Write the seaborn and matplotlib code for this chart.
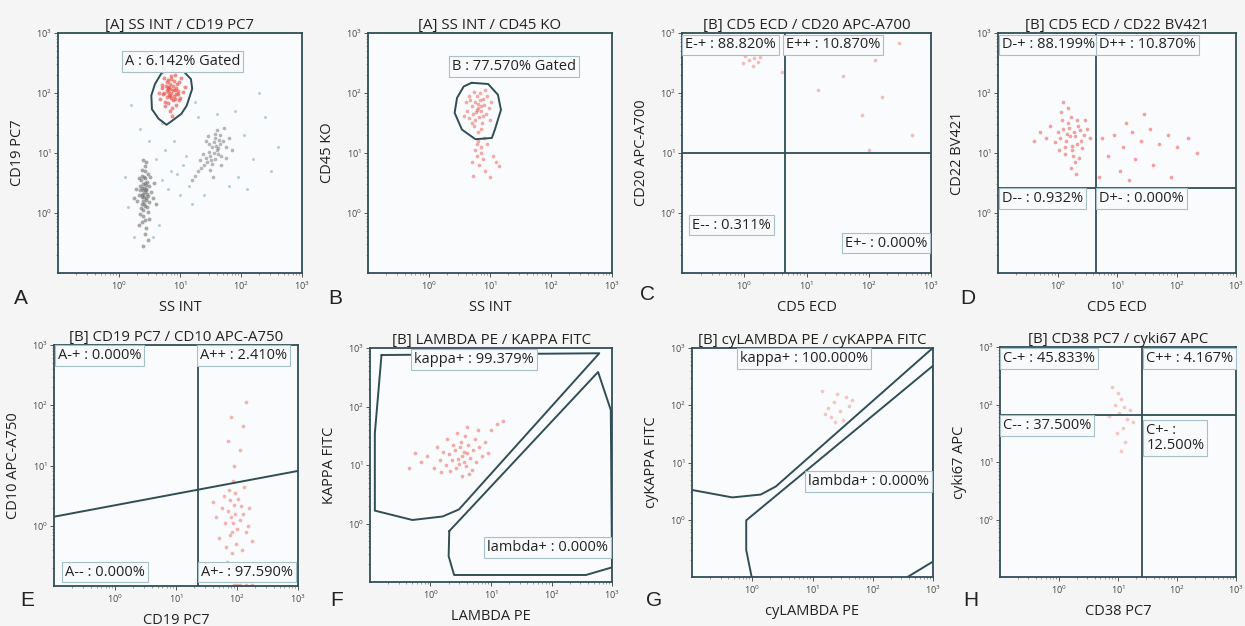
import numpy as np
import matplotlib
matplotlib.use("Agg")
import matplotlib.pyplot as plt
import seaborn as sns
from matplotlib.ticker import FixedLocator, LogLocator, NullFormatter

# ---------------- data (all values in log10 units) ----------------
# panel A: SS INT / CD19 PC7
a_gate = [(0.83, 2.43), (1.05, 2.37), (1.18, 2.23), (1.20, 2.07), (1.11, 1.79), (1.02, 1.65),
          (0.78, 1.47), (0.65, 1.57), (0.54, 1.73), (0.53, 1.96), (0.59, 2.15), (0.69, 2.32)]
a_red = [(0.85, 2.00), (0.82, 2.10), (0.90, 1.95), (0.78, 2.05), (0.95, 2.15), (0.88, 1.88), (0.72, 1.98),
         (0.80, 2.22), (0.92, 2.05), (1.00, 1.92), (0.86, 2.28), (0.76, 1.85), (0.83, 1.95), (0.98, 2.18),
         (0.70, 2.08), (0.89, 2.12), (0.93, 1.80), (0.81, 2.02), (0.74, 2.25), (1.05, 2.02), (0.87, 1.75),
         (0.79, 1.93), (0.91, 2.30), (0.84, 2.15), (0.68, 1.90), (0.96, 1.98), (0.77, 2.12), (1.02, 2.25),
         (0.88, 2.05), (0.83, 1.70), (0.73, 2.00), (0.94, 2.08), (0.86, 1.92), (0.80, 1.83), (0.99, 1.88),
         (0.65, 2.00), (0.90, 2.20), (0.84, 2.06), (0.75, 1.78), (1.08, 2.10), (0.82, 1.97), (0.92, 1.90),
         (0.78, 2.18), (0.87, 1.62), (0.71, 2.14), (0.97, 2.03), (0.85, 2.24), (0.80, 2.08), (0.93, 1.98)]
a_gray_main = [(0.42, 0.35), (0.38, 0.30), (0.45, 0.40), (0.40, 0.20), (0.35, 0.45), (0.48, 0.28), (0.43, 0.50),
               (0.37, 0.15), (0.41, 0.60), (0.46, 0.10), (0.33, 0.30), (0.50, 0.45), (0.39, 0.05), (0.44, 0.25),
               (0.36, 0.55), (0.47, 0.65), (0.40, -0.05), (0.42, 0.70), (0.30, 0.20), (0.52, 0.35), (0.38, -0.15),
               (0.45, -0.25), (0.41, 0.42), (0.34, 0.38), (0.49, 0.18), (0.43, 0.12), (0.37, 0.62), (0.46, 0.52),
               (0.40, 0.32), (0.44, 0.38), (0.39, 0.48), (0.36, 0.08), (0.42, -0.35), (0.47, -0.45), (0.40, -0.55),
               (0.32, 0.58), (0.55, 0.25), (0.28, 0.40), (0.51, 0.60), (0.43, 0.78), (0.38, 0.72), (0.48, 0.02),
               (0.35, -0.02), (0.44, 0.22), (0.41, 0.15), (0.39, 0.38), (0.46, 0.32), (0.37, 0.27), (0.43, 0.58),
               (0.42, -0.12), (0.58, 0.50), (0.25, 0.25), (0.60, 0.15), (0.33, -0.20), (0.50, -0.10), (0.45, 0.85),
               (0.40, 0.88), (0.38, 0.42), (0.44, 0.46), (0.41, 0.26)]
a_gray_second = [(1.55, 1.00), (1.50, 0.95), (1.60, 1.05), (1.45, 0.85), (1.65, 1.15), (1.58, 0.90), (1.52, 1.10),
                 (1.40, 0.80), (1.70, 1.20), (1.48, 1.02), (1.62, 0.98), (1.35, 0.75), (1.57, 1.25), (1.75, 1.10),
                 (1.43, 0.92), (1.66, 1.30), (1.30, 0.70), (1.53, 0.82), (1.61, 1.38), (1.80, 1.25), (1.47, 1.15),
                 (1.25, 0.62), (1.68, 0.95), (1.38, 0.98), (1.56, 1.18), (1.72, 1.42), (1.20, 0.55), (1.85, 1.05),
                 (1.50, 0.72), (1.63, 1.08), (1.42, 1.20), (1.58, 1.32), (1.33, 0.88), (1.76, 0.92), (1.54, 0.60),
                 (1.46, 1.28), (1.67, 0.80), (1.59, 1.12), (1.51, 0.88), (1.64, 1.22)]
a_sparse = [(0.70, 0.55), (0.85, 0.70), (0.95, 0.65), (1.05, 0.80), (0.80, 0.40), (1.10, 0.95), (0.90, 1.20),
            (0.60, 0.90), (1.15, 0.45), (0.75, 1.05), (1.00, 0.30), (2.05, 1.30), (2.20, 0.90), (1.95, 0.60),
            (2.40, 1.60), (1.30, 1.60), (0.20, 1.80), (0.35, 1.40), (1.90, 1.70), (2.10, 0.40), (0.55, -0.40),
            (0.65, -0.20), (0.25, -0.40), (1.20, 0.15), (1.40, 0.30), (2.60, 1.10), (0.10, 0.60), (0.70, 1.50),
            (1.60, 1.65), (2.30, 2.00), (1.25, 1.85), (0.50, 1.20), (0.15, 0.10), (1.80, 0.45), (2.50, 0.70)]

# panel B: SS INT / CD45 KO
b_gate = [(0.70, 2.17), (0.97, 2.15), (1.13, 1.97), (1.18, 1.72), (1.08, 1.39), (1.03, 1.25), (0.76, 1.23),
          (0.54, 1.39), (0.42, 1.67), (0.46, 1.92), (0.57, 2.11)]
b_red = [(0.80, 1.75), (0.75, 1.85), (0.85, 1.70), (0.72, 1.65), (0.88, 1.90), (0.78, 1.95), (0.82, 1.60),
         (0.70, 1.78), (0.90, 1.80), (0.76, 1.55), (0.84, 2.00), (0.68, 1.88), (0.93, 1.65), (0.79, 1.72),
         (0.74, 1.45), (0.87, 1.50), (0.62, 1.70), (0.95, 1.95), (0.81, 1.82), (0.66, 1.58), (0.98, 1.75),
         (0.73, 2.02), (0.86, 1.40), (0.60, 1.85), (1.00, 1.55), (0.77, 1.68), (0.83, 1.88), (0.71, 1.50),
         (0.89, 1.62), (0.80, 1.35), (0.92, 2.05), (0.65, 1.95), (0.58, 1.62), (1.02, 1.85), (0.85, 1.78),
         (0.80, 1.20), (0.85, 1.10), (0.75, 1.05), (0.90, 1.25), (0.78, 0.95), (0.88, 0.90), (0.95, 1.15),
         (0.70, 0.85), (0.82, 0.80), (1.05, 0.95), (1.10, 0.85), (0.92, 0.70), (0.72, 0.62), (1.00, 0.60),
         (0.86, 1.00), (1.15, 0.78), (0.78, 1.15)]

# panel C: CD5 ECD / CD20 APC-A700
c_quad = (0.65, 1.0)
c_red = [(0.10, 2.70), (0.05, 2.75), (0.15, 2.65), (0.00, 2.80), (0.20, 2.72), (-0.05, 2.68), (0.12, 2.85),
         (0.25, 2.60), (0.08, 2.55), (-0.10, 2.75), (0.18, 2.90), (0.30, 2.78), (0.02, 2.62), (0.22, 2.52),
         (-0.15, 2.85), (0.14, 2.45), (0.06, 2.92), (0.28, 2.68), (-0.02, 2.50), (0.35, 2.85), (0.10, 2.78),
         (0.16, 2.58), (1.19, 2.05), (1.89, 1.64), (2.21, 1.94), (1.59, 2.28), (2.48, 2.84), (1.35, 2.75),
         (2.10, 2.55), (0.60, 2.35), (2.70, 1.30), (2.00, 1.05)]

# panel D: CD5 ECD / CD22 BV421
d_quad = (0.64, 0.42)
d_red = [(0.21, 1.29), (0.15, 1.20), (0.28, 1.35), (0.10, 1.40), (0.32, 1.15), (0.18, 1.50), (0.25, 1.05),
         (0.05, 1.25), (0.35, 1.45), (0.12, 1.10), (0.22, 1.60), (0.30, 1.28), (0.00, 1.35), (0.40, 1.20),
         (0.08, 1.55), (0.26, 0.95), (0.16, 1.32), (0.38, 1.38), (-0.05, 1.18), (0.20, 1.42), (0.45, 1.30),
         (0.13, 0.98), (0.33, 1.55), (-0.12, 1.45), (0.24, 1.12), (0.50, 1.40), (0.06, 1.68), (0.29, 0.85),
         (-0.20, 1.25), (0.42, 1.08), (0.17, 1.75), (0.36, 0.92), (0.02, 1.05), (0.55, 1.25), (-0.30, 1.35),
         (0.23, 0.75), (0.10, 1.85), (0.47, 1.55), (-0.40, 1.20), (0.31, 0.65),
         (0.75, 1.25), (0.95, 1.30), (1.10, 1.10), (1.25, 1.35), (1.40, 1.20), (1.55, 1.40), (1.30, 0.90),
         (1.70, 1.15), (1.85, 1.30), (1.60, 0.80), (2.00, 1.10), (1.15, 1.50), (0.85, 0.95), (2.20, 1.25),
         (1.45, 1.65), (1.05, 0.70), (1.90, 0.60), (0.70, 0.60), (2.35, 1.00), (1.20, 0.55)]

# panel E: CD19 PC7 / CD10 APC-A750
e_split_x = 1.36
e_diag = [(-1.0, 0.15), (3.0, 0.91)]
e_red = [(1.94, 0.05), (1.90, 0.15), (2.00, -0.05), (1.85, 0.25), (2.05, 0.10), (1.95, 0.35), (1.88, -0.15),
         (2.10, 0.20), (1.80, 0.05), (1.98, -0.30), (2.02, 0.45), (1.92, -0.45), (2.15, -0.10), (1.75, 0.30),
         (1.96, 0.55), (2.08, -0.40), (1.84, -0.60), (2.20, 0.30), (1.70, -0.20), (1.99, -0.70), (1.87, 0.60),
         (2.12, 0.65), (1.78, 0.50), (2.25, -0.25), (1.93, 0.75), (1.65, 0.15), (2.03, -0.85), (1.60, 0.40),
         (2.18, 0.00), (1.82, -0.35), (1.97, 0.20), (1.91, -0.10), (2.06, 0.32), (1.89, 0.42),
         (1.95, 1.00), (2.05, 1.25), (2.10, 1.65), (1.90, 1.80), (2.15, 2.05), (1.85, 1.40),
         (1.95, -0.98), (2.05, -0.98), (2.15, -0.98), (2.25, -0.98), (2.00, -0.98)]

# panel F: LAMBDA PE / KAPPA FITC
f_kappa_gate = [(-0.81, 2.88), (2.79, 2.91), (0.47, 0.24), (0.20, 0.12), (-0.30, 0.06), (-0.92, 0.22),
                (-0.92, 1.54)]
f_lambda_gate = [(0.31, -0.13), (2.77, 2.59), (2.98, 1.94), (3.00, -0.75), (2.57, -0.88), (0.39, -0.88),
                 (0.30, -0.56)]
f_red = [(0.52, 1.15), (0.45, 1.10), (0.60, 1.20), (0.40, 1.25), (0.55, 1.05), (0.65, 1.12), (0.48, 1.30),
         (0.35, 1.08), (0.58, 0.98), (0.70, 1.25), (0.42, 0.95), (0.50, 1.40), (0.30, 1.18), (0.62, 1.35),
         (0.75, 1.05), (0.25, 1.00), (0.55, 1.22), (0.38, 1.35), (0.68, 0.92), (0.47, 1.02), (0.80, 1.30),
         (0.20, 1.22), (0.57, 1.50), (0.85, 1.15), (0.15, 1.08), (0.33, 0.90), (0.73, 1.45), (0.10, 1.30),
         (0.90, 1.40), (0.05, 0.95), (0.44, 1.55), (0.95, 1.20), (-0.05, 1.15), (0.63, 0.85), (1.00, 1.60),
         (-0.15, 1.05), (0.28, 1.45), (1.10, 1.70), (-0.25, 1.20), (0.52, 0.82), (1.20, 1.75), (0.78, 1.60),
         (0.18, 0.88), (0.60, 1.65), (-0.35, 0.95)]

# panel G: cyLAMBDA PE / cyKAPPA FITC
g_kappa_gate = [(-1.05, 0.53), (-0.33, 0.39), (0.14, 0.44), (0.39, 0.58), (3.05, 3.05)]
g_lambda_gate = [(3.0, 2.69), (0.05, 0.12), (-0.10, -0.01), (-0.10, -0.53), (0.0, -1.05), (2.5, -1.05),
                 (3.0, -0.73), (3.0, 2.69)]
g_red = [(1.25, 1.95), (1.35, 2.05), (1.45, 1.90), (1.30, 1.80), (1.55, 2.15), (1.40, 2.20), (1.20, 1.85),
         (1.60, 1.98), (1.50, 1.75), (1.15, 2.25), (1.38, 1.70), (1.65, 2.10)]

# panel H: CD38 PC7 / cyki67 APC
h_quad = (1.40, 1.81)
h_red = [(1.00, 2.20), (1.05, 2.10), (0.95, 2.00), (1.10, 1.95), (1.02, 1.85), (1.15, 1.75), (0.90, 2.30),
         (1.08, 1.60), (1.20, 1.90), (0.98, 1.50), (1.12, 1.35), (1.05, 1.20), (1.25, 1.70), (0.85, 1.80)]

# ---------------- style ----------------
EDGE = '#304e56'
RED = '#e8483f'
GRAY = '#737373'
BLUEGRAY = '#8fb0c2'
TXT = '#222222'

sns.set_style("ticks")
plt.rcParams['font.family'] = ['Open Sans', 'DejaVu Sans']

W, H = 1245, 626
fig = plt.figure(figsize=(W / 100, H / 100), dpi=100, facecolor='#f5f5f5')


def add_panel(box):
    l, t, r, b = box
    return fig.add_axes([l / W, 1 - b / H, (r - l) / W, (b - t) / H])


def style_axes(ax, title, xlabel, ylabel):
    ax.set_xscale('log')
    ax.set_yscale('log')
    ax.set_xlim(10 ** -1, 10 ** 3)
    ax.set_ylim(10 ** -1, 10 ** 3)
    ax.set_facecolor('#fafbfc')
    for s in ax.spines.values():
        s.set_visible(True)
        s.set_color(EDGE)
        s.set_linewidth(1.3)
    for axis in (ax.xaxis, ax.yaxis):
        axis.set_major_locator(FixedLocator([1, 10, 100, 1000]))
        axis.set_minor_locator(LogLocator(base=10, subs=np.arange(2, 10), numticks=20))
        axis.set_minor_formatter(NullFormatter())
    ax.tick_params(which='major', length=3, width=0.7, color='#555555', labelsize=6.5,
                   labelcolor='#444444', pad=1.5)
    ax.tick_params(which='minor', length=1.6, width=0.5, color='#777777')
    ax.set_title(title, fontsize=10.8, pad=3, color=TXT)
    ax.set_xlabel(xlabel, fontsize=10.5, labelpad=6, color=TXT)
    ax.set_ylabel(ylabel, fontsize=10.5, labelpad=8, color=TXT)


def dots(ax, pts, color, size=7, alpha=0.55):
    arr = 10 ** np.array(pts)
    sns.scatterplot(x=arr[:, 0], y=arr[:, 1], ax=ax, color=color, s=size, alpha=alpha,
                    linewidth=0, legend=False)


def gate(ax, pts, closed=True):
    arr = np.array(pts)
    if closed:
        arr = np.vstack([arr, arr[:1]])
    ax.plot(10 ** arr[:, 0], 10 ** arr[:, 1], color=EDGE, lw=1.4, solid_joinstyle='round')


def quad(ax, q):
    ax.axvline(10 ** q[0], color=EDGE, lw=1.3)
    ax.axhline(10 ** q[1], color=EDGE, lw=1.3)


def tag(ax, fx, fy, s, ha='left'):
    ax.text(fx, fy, s, transform=ax.transAxes, fontsize=10.5, ha=ha, va='center', color=TXT,
            linespacing=1.0,
            bbox=dict(boxstyle='square,pad=0.2', fc='#f8fafb', ec='#a6c0c9', lw=0.8))


def letter(x, y, s):
    fig.text(x / W, 1 - y / H, s, fontsize=15, family=['Liberation Sans', 'DejaVu Sans'],
             va='center', ha='left', color='#222222')


# ---------------- panels ----------------
ax = add_panel((58, 33, 302, 273))
style_axes(ax, '[A] SS INT / CD19 PC7', 'SS INT', 'CD19 PC7')
dots(ax, a_sparse, BLUEGRAY, 5, 0.6)
dots(ax, a_gray_main, GRAY, 8, 0.6)
dots(ax, a_gray_second, GRAY, 7, 0.5)
dots(ax, a_red, RED, 8, 0.6)
gate(ax, a_gate)
tag(ax, 0.51, 0.88, 'A : 6.142% Gated', ha='center')
letter(14, 298, 'A')

ax = add_panel((368, 33, 612, 273))
style_axes(ax, '[A] SS INT / CD45 KO', 'SS INT', 'CD45 KO')
dots(ax, b_red, RED, 7, 0.45)
gate(ax, b_gate)
tag(ax, 0.60, 0.86, 'B : 77.570% Gated', ha='center')
letter(328, 298, 'B')

ax = add_panel((682, 33, 931, 273))
style_axes(ax, '[B] CD5 ECD / CD20 APC-A700', 'CD5 ECD', 'CD20 APC-A700')
dots(ax, c_red, RED, 7, 0.35)
quad(ax, c_quad)
tag(ax, 0.012, 0.95, 'E-+ : 88.820%')
tag(ax, 0.418, 0.95, 'E++ : 10.870%')
tag(ax, 0.04, 0.20, 'E-- : 0.311%')
tag(ax, 0.985, 0.125, 'E+- : 0.000%', ha='right')
letter(640, 294, 'C')

ax = add_panel((998, 33, 1236, 273))
style_axes(ax, '[B] CD5 ECD / CD22 BV421', 'CD5 ECD', 'CD22 BV421')
dots(ax, d_red, RED, 7, 0.5)
quad(ax, d_quad)
tag(ax, 0.016, 0.95, 'D-+ : 88.199%')
tag(ax, 0.425, 0.95, 'D++ : 10.870%')
tag(ax, 0.016, 0.31, 'D-- : 0.932%')
tag(ax, 0.425, 0.31, 'D+- : 0.000%')
letter(960, 298, 'D')

ax = add_panel((54, 345, 298, 586))
style_axes(ax, '[B] CD19 PC7 / CD10 APC-A750', 'CD19 PC7', 'CD10 APC-A750')
dots(ax, e_red, RED, 7, 0.4)
ax.axvline(10 ** e_split_x, color=EDGE, lw=1.3)
gate(ax, e_diag, closed=False)
tag(ax, 0.016, 0.955, 'A-+ : 0.000%')
tag(ax, 0.598, 0.955, 'A++ : 2.410%')
tag(ax, 0.045, 0.058, 'A-- : 0.000%')
tag(ax, 0.603, 0.058, 'A+- : 97.590%')
letter(20, 600, 'E')

ax = add_panel((370, 348, 612, 582))
style_axes(ax, '[B] LAMBDA PE / KAPPA FITC', 'LAMBDA PE', 'KAPPA FITC')
dots(ax, f_red, RED, 7, 0.45)
gate(ax, f_kappa_gate)
gate(ax, f_lambda_gate)
tag(ax, 0.43, 0.95, 'kappa+ : 99.379%', ha='center')
tag(ax, 0.733, 0.147, 'lambda+ : 0.000%', ha='center')
letter(330, 600, 'F')

ax = add_panel((692, 348, 933, 577))
style_axes(ax, '[B] cyLAMBDA PE / cyKAPPA FITC', 'cyLAMBDA PE', 'cyKAPPA FITC')
dots(ax, g_red, RED, 7, 0.3)
gate(ax, g_kappa_gate, closed=False)
gate(ax, g_lambda_gate, closed=False)
tag(ax, 0.463, 0.955, 'kappa+ : 100.000%', ha='center')
tag(ax, 0.734, 0.417, 'lambda+ : 0.000%', ha='center')
letter(646, 600, 'G')

ax = add_panel((1000, 347, 1236, 577))
style_axes(ax, '[B] CD38 PC7 / cyki67 APC', 'CD38 PC7', 'cyki67 APC')
dots(ax, h_red, RED, 7, 0.3)
quad(ax, h_quad)
tag(ax, 0.012, 0.95, 'C-+ : 45.833%')
tag(ax, 0.62, 0.95, 'C++ : 4.167%')
tag(ax, 0.012, 0.66, 'C-- : 37.500%')
tag(ax, 0.62, 0.605, 'C+- :\n12.500%')
letter(963, 600, 'H')

fig.savefig('out.png', dpi=100, facecolor=fig.get_facecolor())
